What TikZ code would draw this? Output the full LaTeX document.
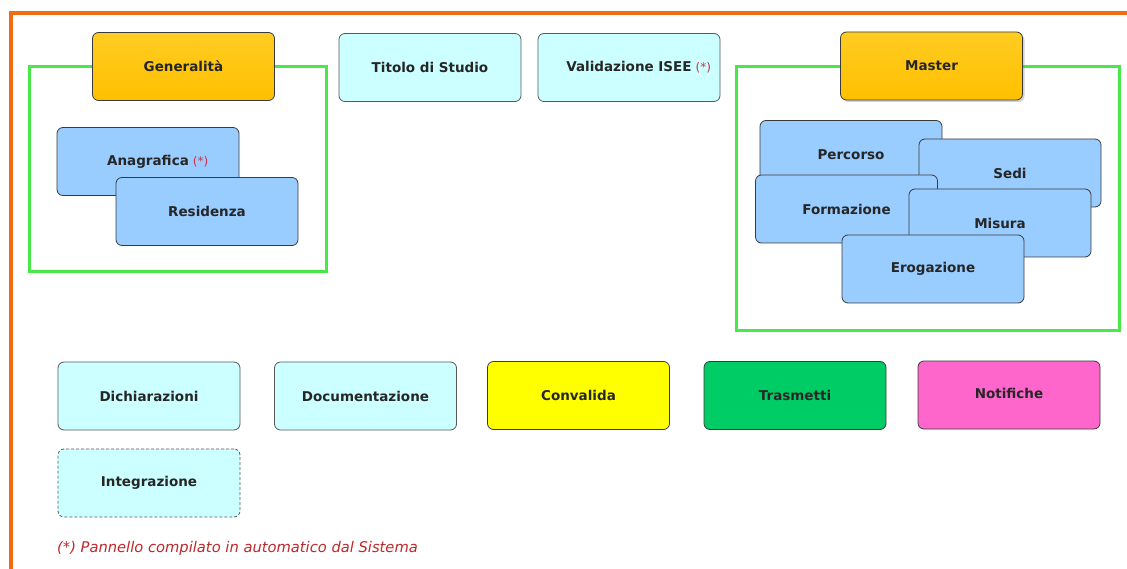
\documentclass[tikz,border=0pt]{standalone}
\usepackage{fontspec}
\setmainfont{DejaVu Sans}
\usetikzlibrary{shadows}
\definecolor{frameorange}{HTML}{F26B10}
\definecolor{framegreen}{HTML}{48E848}
\definecolor{lightcyan}{HTML}{CCFFFF}
\definecolor{lightblue}{HTML}{99CCFF}
\definecolor{goldtop}{HTML}{FFCC22}
\definecolor{goldbot}{HTML}{FFC000}
\definecolor{yellowbox}{HTML}{FFFF00}
\definecolor{greenbox}{HTML}{00CC66}
\definecolor{pinkbox}{HTML}{FF66CC}
\definecolor{borderdark}{HTML}{3A3A3A}
\definecolor{astred}{HTML}{CC3344}
\definecolor{notered}{HTML}{C0282C}
\newcommand{\starnote}{\rlap{\hspace{4pt}\textcolor{astred}{\mdseries\fontsize{12}{12}\selectfont(*)}}}
\begin{document}
\begin{tikzpicture}[x=1pt,y=-1pt,
  box/.style={draw=borderdark, line width=0.8pt, rounded corners=6pt,
    minimum width=182pt, minimum height=68pt, inner sep=0pt, text=black!85,
    font=\bfseries\fontsize{13.5}{15}\selectfont},
  cyanbox/.style={box, fill=lightcyan, draw=black!65},
  bluebox/.style={box, fill=lightblue},
  goldbox/.style={box, top color=goldtop, bottom color=goldbot},
  greenframe/.style={draw=framegreen, line width=3pt}]
\useasboundingbox (0,0) rectangle (1127,569);
\fill[white] (0,0) rectangle (1127,569);
\draw[frameorange, line width=4pt] (11,571) -- (11,13) -- (1129,13);

% green frames
\draw[greenframe] (29,67) rectangle (326,272);
\draw[greenframe] (736,67) rectangle (1119,330);

% left group
\node[goldbox] (gen) at (183.5,66.5) {Generalità};
\node[bluebox] (ana) at (148,161.5) {Anagrafica\starnote};
\node[bluebox] (res) at (207,211.5) {Residenza};

% top middle
\node[cyanbox] (tit) at (430,67.5) {Titolo di Studio};
\node[cyanbox] (isee) at (629,67.5) {Validazione ISEE\starnote};

% right group
\node[goldbox, drop shadow={shadow xshift=2pt, shadow yshift=-2pt, opacity=0.35}] (mas) at (931.5,66) {Master};
\node[bluebox] (per) at (851,154.5) {Percorso};
\node[bluebox] (sed) at (1010,173) {Sedi};
\node[bluebox] (for) at (846.5,209) {Formazione};
\node[bluebox] (mis) at (1000,223) {Misura};
\node[bluebox] (ero) at (933,269) {Erogazione};

% bottom row
\node[cyanbox] (dic) at (149,396) {Dichiarazioni};
\node[cyanbox] (doc) at (365.5,396) {Documentazione};
\node[box, fill=yellowbox] (con) at (578.5,395.5) {Convalida};
\node[box, fill=greenbox] (tra) at (795,395.5) {Trasmetti};
\node[box, fill=pinkbox] (not) at (1009,395) {\raisebox{3pt}{Notifiche}};
\node[cyanbox, dashed, dash pattern=on 3pt off 2pt] (int) at (149,483) {Integrazione};

% footnote
\node[anchor=west, inner sep=0pt, text=notered, font=\itshape\fontsize{14.7}{16}\selectfont] (note) at (57,548) {(*) Pannello compilato in automatico dal Sistema};
\end{tikzpicture}
\end{document}
